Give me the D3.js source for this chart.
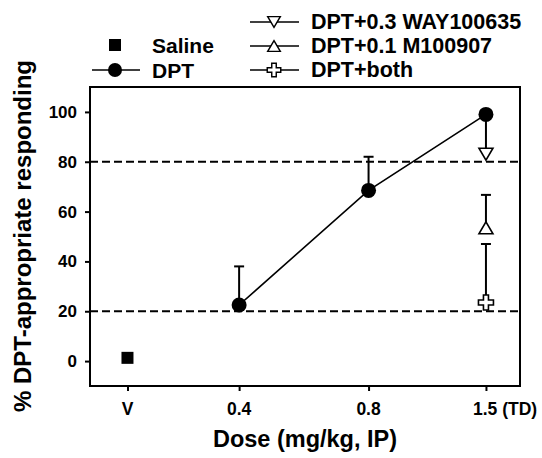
<!DOCTYPE html>
<html><head><meta charset="utf-8">
<script src="https://cdn.jsdelivr.net/npm/d3@7"></script>
<style>body{margin:0;background:#fff}svg{display:block}text{font-family:"Liberation Sans",Arial,sans-serif;font-weight:bold;fill:#000}</style>
</head><body>
<script>
// ---- data ----
const xTickValues = [0.22, 0.4, 0.8, 1.5];
const xTickLabels = ["V", "0.4", "0.8", "1.5 (TD)"];
const yTickValues = [0, 20, 40, 60, 80, 100];
const salineX = [0.22];
const salineY = [1.3];
const dptX = [0.4, 0.8, 1.5];
const dptY = [22.5, 68.5, 99];
const dptErrUpper = [38, 82, 99];
const wayX = [1.5];
const wayY = [83];
const wayErrUpper = [98];
const mX = [1.5];
const mY = [53.5];
const mErrUpper = [66.7];
const bothX = [1.5];
const bothY = [23.5];
const bothErrUpper = [47];
const refLines = [20, 80];
const legendLeft = ["Saline", "DPT"];
const legendRight = ["DPT+0.3 WAY100635", "DPT+0.1 M100907", "DPT+both"];

const W = 542, H = 458;
const svg = d3.select("body").append("svg").attr("width", W).attr("height", H);
const x = d3.scaleLog().domain([0.18, 1.8]).range([90, 520]);
const y = d3.scaleLinear().domain([-10, 110]).range([386, 87]);

// reference dashed lines
svg.selectAll(".ref").data(refLines).enter().append("line")
  .attr("x1", x.range()[0]).attr("x2", x.range()[1])
  .attr("y1", d => y(d)).attr("y2", d => y(d))
  .attr("stroke", "#000").attr("stroke-width", 2).attr("stroke-dasharray", "8,4");

// frame
svg.append("rect").attr("x", 90).attr("y", 87).attr("width", 430).attr("height", 299)
  .attr("fill", "none").attr("stroke", "#000").attr("stroke-width", 2);

// y axis
const ya = svg.append("g").attr("transform", "translate(90,0)")
  .call(d3.axisLeft(y).tickValues(yTickValues).tickSize(5).tickPadding(8));
ya.select(".domain").remove();
ya.selectAll("line").attr("stroke-width", 2);
ya.selectAll("text").style("font-size", "17px");

// x axis
const xa = svg.append("g").attr("transform", "translate(0,386)")
  .call(d3.axisBottom(x).tickValues(xTickValues).tickSize(5).tickFormat(""));
xa.select(".domain").remove();
xa.selectAll("line").attr("stroke-width", 2);
svg.selectAll(".xl").data(xTickValues).enter().append("text")
  .attr("x", (d, i) => i === 3 ? x(d) - 13 : x(d))
  .attr("y", 415)
  .attr("text-anchor", (d, i) => i === 3 ? "start" : "middle")
  .style("font-size", "17.5px")
  .text((d, i) => xTickLabels[i]);

// axis titles
svg.append("text").attr("x", 305).attr("y", 447).attr("text-anchor", "middle")
  .style("font-size", "23.5px").text("Dose (mg/kg, IP)");
svg.append("text").attr("transform", "translate(31,236) rotate(-90)").attr("text-anchor", "middle")
  .style("font-size", "24px").text("% DPT-appropriate responding");

// error bars (upper)
function errBars(xs, ys, ups) {
  xs.forEach((xv, i) => {
    svg.append("line").attr("x1", x(xv)).attr("x2", x(xv)).attr("y1", y(ys[i])).attr("y2", y(ups[i]))
      .attr("stroke", "#000").attr("stroke-width", 2);
    svg.append("line").attr("x1", x(xv) - 5).attr("x2", x(xv) + 5).attr("y1", y(ups[i])).attr("y2", y(ups[i]))
      .attr("stroke", "#000").attr("stroke-width", 2);
  });
}
errBars(dptX, dptY, dptErrUpper);
errBars(wayX, wayY, wayErrUpper);
errBars(mX, mY, mErrUpper);
errBars(bothX, bothY, bothErrUpper);

// DPT line
svg.append("path").datum(dptX.map((d, i) => [d, dptY[i]]))
  .attr("d", d3.line().x(d => x(d[0])).y(d => y(d[1])))
  .attr("fill", "none").attr("stroke", "#000").attr("stroke-width", 1.6);

// symbols
const triDown = "M-7,-6 L7,-6 L0,6 Z";
const triUp = "M-7,6 L7,6 L0,-6 Z";
const cross = "M-2.5,-7.5 L2.5,-7.5 L2.5,-2.5 L7.5,-2.5 L7.5,2.5 L2.5,2.5 L2.5,7.5 L-2.5,7.5 L-2.5,2.5 L-7.5,2.5 L-7.5,-2.5 L-2.5,-2.5 Z";
function sym(xp, yp, path, scale) {
  svg.append("path").attr("d", path).attr("transform", `translate(${xp},${yp}) scale(${scale||1})`)
    .attr("fill", "#fff").attr("stroke", "#000").attr("stroke-width", 1.6);
}
svg.selectAll(".sal").data(salineX).enter().append("rect")
  .attr("x", d => x(d) - 6).attr("y", (d, i) => y(salineY[i]) - 6).attr("width", 12).attr("height", 12).attr("fill", "#000");
svg.selectAll(".dpt").data(dptX).enter().append("circle")
  .attr("cx", d => x(d)).attr("cy", (d, i) => y(dptY[i])).attr("r", 7.5).attr("fill", "#000");
wayX.forEach((d, i) => sym(x(d), y(wayY[i]), triDown));
mX.forEach((d, i) => sym(x(d), y(mY[i]), triUp));
bothX.forEach((d, i) => sym(x(d), y(bothY[i]), cross));

// legend left
svg.append("rect").attr("x", 109).attr("y", 39).attr("width", 12).attr("height", 12).attr("fill", "#000");
svg.append("line").attr("x1", 92).attr("x2", 140).attr("y1", 70).attr("y2", 70).attr("stroke", "#000").attr("stroke-width", 1.6);
svg.append("circle").attr("cx", 115).attr("cy", 70).attr("r", 7).attr("fill", "#000");
svg.selectAll(".ll").data(legendLeft).enter().append("text")
  .attr("x", 152).attr("y", (d, i) => 53 + i * 25).style("font-size", "21px").text(d => d);

// legend right
const rowY = [22, 46, 70];
const rowSyms = [triDown, triUp, cross];
rowY.forEach((ry, i) => {
  svg.append("line").attr("x1", 250).attr("x2", 299).attr("y1", ry).attr("y2", ry).attr("stroke", "#000").attr("stroke-width", 1.6);
  sym(274, ry, rowSyms[i], 0.9);
});
svg.selectAll(".lr").data(legendRight).enter().append("text")
  .attr("x", 311).attr("y", (d, i) => rowY[i] + 7).style("font-size", "21.5px").text(d => d);
</script>
</body></html>
